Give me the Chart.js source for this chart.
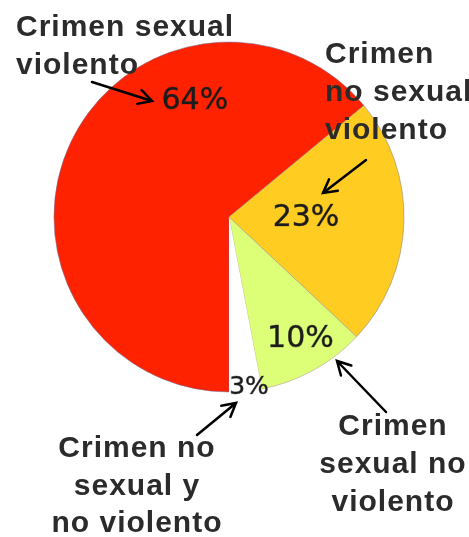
<!DOCTYPE html>
<html><head><meta charset="utf-8">
<script src="https://cdn.jsdelivr.net/npm/chart.js@4"></script>
<style>html,body{margin:0;padding:0;background:#fff}#wrap{width:469px;height:537px;position:relative}</style>
</head><body><div id="wrap"><canvas id="c"></canvas></div>
<script>
// ---- data ----
const categories = ['Crimen sexual violento', 'Crimen no sexual violento', 'Crimen sexual no violento', 'Crimen no sexual y no violento'];
const values = [64, 23, 10, 3];
const percentLabels = values.map(v => v + '%');
const sliceColors = ['#ff2200', '#ffcc22', '#ddff77', '#ffffff'];
const sliceBorders = ['rgba(120,100,140,0.55)', 'rgba(150,130,120,0.6)', 'rgba(180,160,140,0.6)', 'rgba(255,255,255,0)'];

// label placement inside each slice: fraction along the slice angle, fraction of radius
const labelPlace = [[0.71, 0.69], [0.49, 0.44], [0.46, 0.81], [0.38, 0.98]];
const labelSize = [30, 30, 30, 25];

// external annotations (text + arrows)
const notes = [
  { lines: ['Crimen sexual', 'violento'], align: 'left', x: 16, base: [36, 74], arrow: [92, 82, 152, 101] },
  { lines: ['Crimen', 'no sexual', 'violento'], align: 'left', x: 325, base: [63, 101, 139], arrow: [366, 160, 323, 193] },
  { lines: ['Crimen', 'sexual no', 'violento'], align: 'center', x: 393, base: [435, 473, 511], arrow: [386, 412, 337, 361] },
  { lines: ['Crimen no', 'sexual y', 'no violento'], align: 'center', x: 137, base: [457, 495, 532], arrow: [197, 435, 236, 403] }
];

function drawArrow(ctx, x1, y1, x2, y2) {
  const a = Math.atan2(y2 - y1, x2 - x1);
  const h = 15, w = 0.5;
  ctx.beginPath();
  ctx.moveTo(x1, y1); ctx.lineTo(x2, y2);
  ctx.moveTo(x2 - h * Math.cos(a - w), y2 - h * Math.sin(a - w));
  ctx.lineTo(x2, y2);
  ctx.lineTo(x2 - h * Math.cos(a + w), y2 - h * Math.sin(a + w));
  ctx.stroke();
}

const overlay = {
  id: 'overlay',
  afterDatasetsDraw(chart) {
    const ctx = chart.ctx;
    const meta = chart.getDatasetMeta(0);
    ctx.save();
    ctx.fillStyle = '#1c1c1c';
    ctx.strokeStyle = 'rgba(28,28,28,0.6)';
    ctx.lineWidth = 0.7;
    ctx.textAlign = 'center';
    ctx.textBaseline = 'middle';
    meta.data.forEach((arc, i) => {
      const p = arc.getProps(['x', 'y', 'startAngle', 'endAngle', 'outerRadius'], true);
      const [fa, fr] = labelPlace[i];
      const ang = p.startAngle + fa * (p.endAngle - p.startAngle);
      const r = fr * p.outerRadius;
      ctx.font = labelSize[i] + 'px "DejaVu Sans"';
      const lx = p.x + Math.cos(ang) * r, ly = p.y + Math.sin(ang) * r;
      ctx.fillText(percentLabels[i], lx, ly);
      ctx.strokeText(percentLabels[i], lx, ly);
    });
    ctx.restore();
  },
  afterDraw(chart) {
    const ctx = chart.ctx;
    ctx.save();
    ctx.fillStyle = '#2b2b2b';
    ctx.font = 'bold 30px "Liberation Sans"';
    try { ctx.letterSpacing = '1px'; } catch (e) {}
    ctx.textBaseline = 'alphabetic';
    notes.forEach(n => {
      ctx.textAlign = n.align;
      n.lines.forEach((t, j) => ctx.fillText(t, n.x, n.base[j]));
    });
    ctx.strokeStyle = '#000';
    ctx.lineWidth = 2.5;
    ctx.lineCap = 'round';
    ctx.lineJoin = 'miter';
    notes.forEach(n => drawArrow(ctx, ...n.arrow));
    ctx.restore();
  }
};

new Chart(document.getElementById('c'), {
  type: 'pie',
  data: {
    labels: categories,
    datasets: [{
      data: values,
      backgroundColor: sliceColors,
      borderColor: sliceBorders,
      borderWidth: 1,
      hoverOffset: 0
    }]
  },
  options: {
    responsive: true,
    maintainAspectRatio: false,
    animation: false,
    rotation: 180,
    layout: { padding: { left: 53.5, top: 41.5, right: 64.5, bottom: 144.5 } },
    plugins: { legend: { display: false }, tooltip: { enabled: false } },
    events: []
  },
  plugins: [overlay]
});
</script>
</body></html>
